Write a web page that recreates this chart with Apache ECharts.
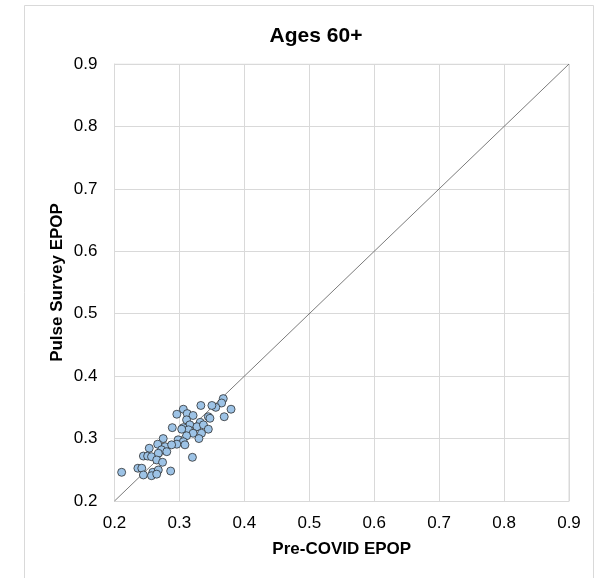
<!DOCTYPE html>
<html>
<head>
<meta charset="utf-8">
<script src="https://cdn.jsdelivr.net/npm/echarts@6/dist/echarts.min.js"></script>
<style>
  html, body { margin: 0; padding: 0; background: #fff; }
  #chart { width: 605px; height: 578px; }
</style>
</head>
<body>
<div id="chart"></div>
<script>
// Employment-to-population ratios, ages 60+: pre-COVID (x) vs Pulse Survey (y)
const preCovidEpop = [
  0.3675, 0.365, 0.356, 0.350, 0.3795, 0.333, 0.369, 0.306, 0.312, 0.321,
  0.296, 0.311, 0.3445, 0.347, 0.316, 0.306, 0.332, 0.327, 0.337, 0.3445,
  0.314, 0.321, 0.334, 0.3035, 0.311, 0.330, 0.298, 0.306, 0.296, 0.3085,
  0.320, 0.275, 0.2665, 0.2535, 0.278, 0.288, 0.2725, 0.2805, 0.2445, 0.251,
  0.257, 0.2675, 0.265, 0.274, 0.211, 0.236, 0.242, 0.2445, 0.259, 0.2675,
  0.257, 0.265, 0.2865, 0.289
];
const pulseEpop = [
  0.364, 0.357, 0.350, 0.353, 0.347, 0.353, 0.335, 0.347, 0.340, 0.337,
  0.339, 0.330, 0.335, 0.3325, 0.322, 0.3175, 0.326, 0.319, 0.322, 0.315,
  0.314, 0.3085, 0.3085, 0.315, 0.3045, 0.300, 0.298, 0.295, 0.291, 0.290,
  0.270, 0.300, 0.291, 0.2845, 0.287, 0.290, 0.282, 0.279, 0.272, 0.272,
  0.271, 0.2765, 0.2657, 0.262, 0.246, 0.2525, 0.2525, 0.2417, 0.246, 0.2497,
  0.2405, 0.243, 0.248, 0.3175
];
// 45-degree reference line endpoints
const equalityLine = [[0.2, 0.2], [0.9, 0.9]];
// Axis ticks
const axisMin = 0.2, axisMax = 0.9, axisStep = 0.1;

const points = preCovidEpop.map((x, i) => [x, pulseEpop[i]]);

const chart = echarts.init(document.getElementById('chart'), null, { renderer: 'canvas' });
const font = 'Liberation Sans, Arial, sans-serif';

chart.setOption({
  animation: false,
  backgroundColor: '#ffffff',
  title: {
    text: 'Ages 60+',
    left: 311,
    textAlign: 'center',
    top: 21,
    textStyle: { fontFamily: font, fontSize: 21, fontWeight: 'bold', color: '#000' }
  },
  graphic: [{
    type: 'rect',
    shape: { x: 24.5, y: 5.5, width: 569, height: 600 },
    style: { fill: 'none', stroke: '#d9d9d9', lineWidth: 1 },
    silent: true
  }],
  grid: { left: 114.5, right: 36, top: 64, bottom: 77 },
  xAxis: {
    type: 'value',
    min: axisMin, max: axisMax, interval: axisStep,
    name: 'Pre-COVID EPOP',
    nameLocation: 'middle',
    nameGap: 40,
    nameMoveOverlap: false,
    nameTextStyle: { fontFamily: font, fontSize: 17, fontWeight: 'bold', color: '#000' },
    axisLine: { show: true, lineStyle: { color: '#d9d9d9' } },
    axisTick: { show: false },
    axisLabel: { fontFamily: font, fontSize: 17, color: '#000', margin: 14,
      formatter: v => v.toFixed(1) },
    splitLine: { show: true, lineStyle: { color: '#d9d9d9', width: 1 } }
  },
  yAxis: {
    type: 'value',
    min: axisMin, max: axisMax, interval: axisStep,
    name: 'Pulse Survey EPOP',
    nameLocation: 'middle',
    nameGap: 49,
    nameMoveOverlap: false,
    nameTextStyle: { fontFamily: font, fontSize: 17, fontWeight: 'bold', color: '#000' },
    axisLine: { show: true, lineStyle: { color: '#d9d9d9' } },
    axisTick: { show: false },
    axisLabel: { fontFamily: font, fontSize: 17, color: '#000', margin: 17,
      formatter: v => v.toFixed(1) },
    splitLine: { show: true, lineStyle: { color: '#d9d9d9', width: 1 } }
  },
  series: [
    {
      type: 'line',
      data: equalityLine,
      symbol: 'none',
      silent: true,
      lineStyle: { color: '#595959', width: 0.8 },
      z: 2
    },
    {
      type: 'scatter',
      data: points,
      symbol: 'circle',
      symbolSize: 8,
      itemStyle: { color: '#9dc3e6', borderColor: '#262626', borderWidth: 0.75, opacity: 1 },
      z: 3
    },
    {
      // top and right frame of the plot area
      type: 'line',
      data: [[axisMin, axisMax], [axisMax, axisMax], [axisMax, axisMin]],
      symbol: 'none',
      silent: true,
      lineStyle: { color: '#d9d9d9', width: 1 },
      z: 1
    }
  ]
});
</script>
</body>
</html>
